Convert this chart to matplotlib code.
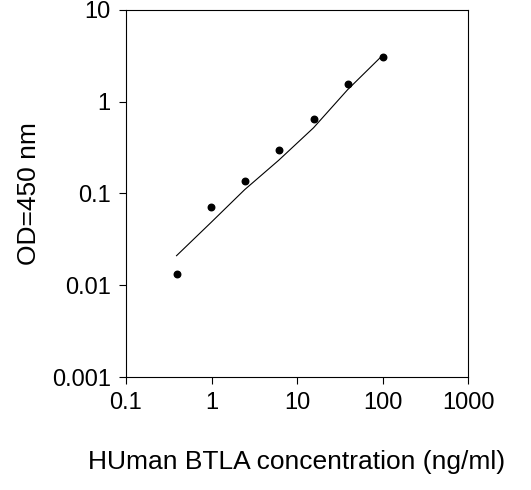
import matplotlib
matplotlib.use("Agg")
import matplotlib.pyplot as plt
from matplotlib.ticker import FixedLocator, NullLocator

plt.rcParams['font.family'] = ['Liberation Sans', 'DejaVu Sans']

conc = [0.39, 0.98, 2.44, 6.1, 15.6, 39, 100]
od = [0.0133, 0.071, 0.137, 0.30, 0.65, 1.56, 3.1]
fit = [0.021, 0.048, 0.11, 0.23, 0.52, 1.35, 3.2]

xticks = [0.1, 1, 10, 100, 1000]
xlabels = ["0.1", "1", "10", "100", "1000"]
yticks = [0.001, 0.01, 0.1, 1, 10]
ylabels = ["0.001", "0.01", "0.1", "1", "10"]

fig = plt.figure(figsize=(5.31, 4.9), dpi=100)
ax = fig.add_axes([126/531, 1 - 377/490, 342/531, 367/490])

ax.plot(conc, fit, color='black', lw=0.8)
ax.scatter(conc, od, color='black', s=22, zorder=3)

ax.set_xscale('log')
ax.set_yscale('log')
ax.set_xlim(0.1, 1000)
ax.set_ylim(0.001, 10)
ax.xaxis.set_major_locator(FixedLocator(xticks))
ax.set_xticklabels(xlabels)
ax.yaxis.set_major_locator(FixedLocator(yticks))
ax.set_yticklabels(ylabels)
ax.xaxis.set_minor_locator(NullLocator())
ax.yaxis.set_minor_locator(NullLocator())
ax.tick_params(direction='out', length=5, labelsize=17, pad=6)

ax.set_xlabel('HUman BTLA concentration (ng/ml)', fontsize=19, labelpad=26)
ax.set_ylabel('OD=450 nm', fontsize=19, labelpad=8)

fig.savefig('out.png', dpi=100)
